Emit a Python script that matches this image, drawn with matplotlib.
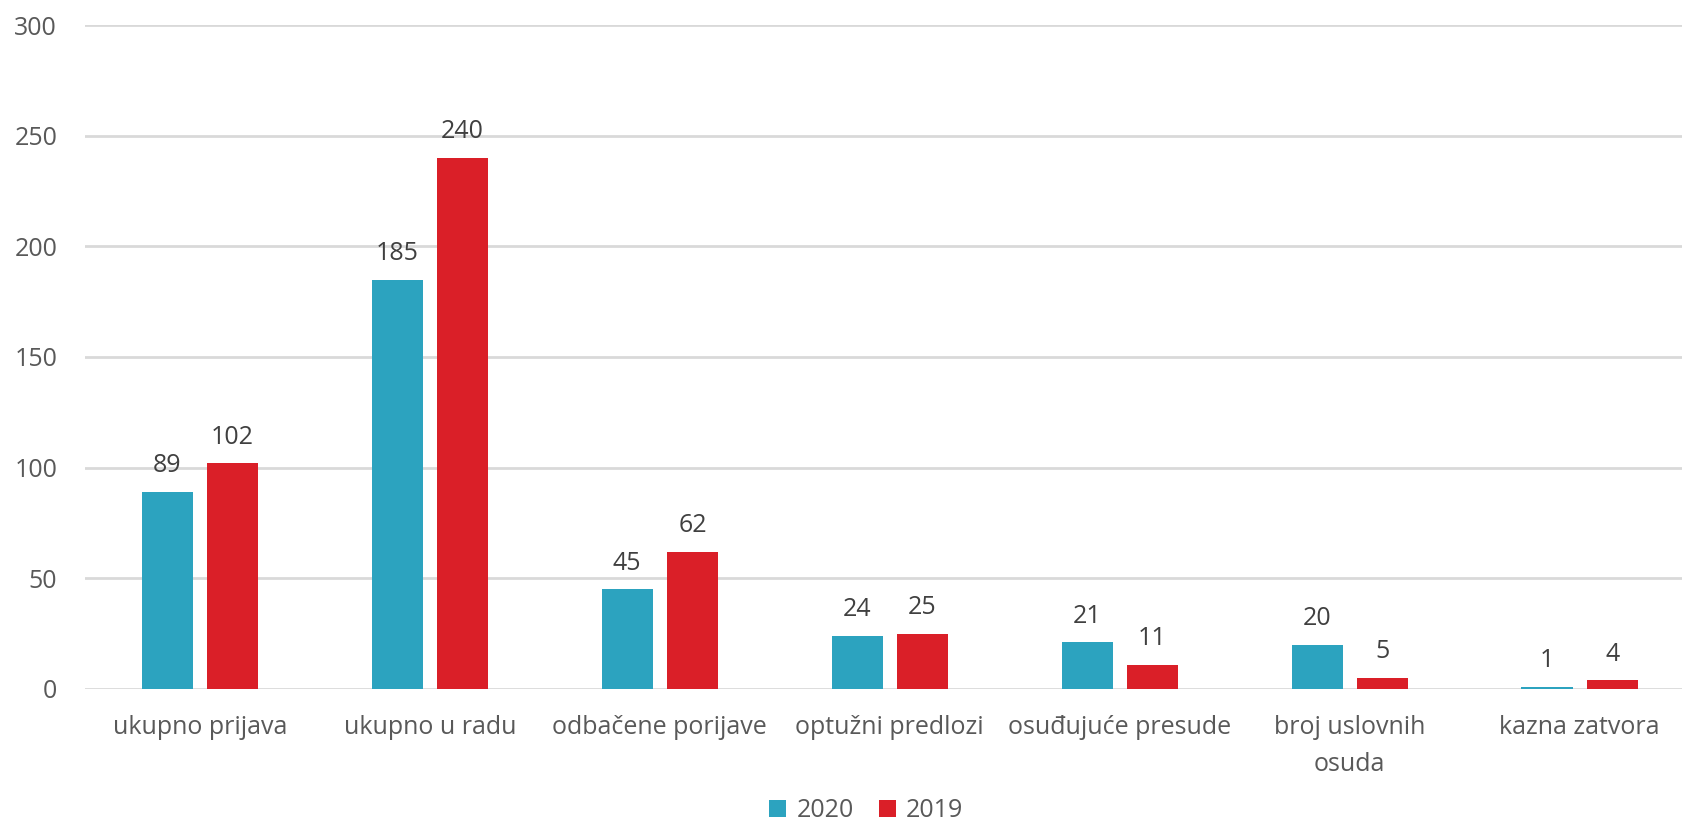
import numpy as np
import matplotlib.pyplot as plt

plt.rcParams['font.family'] = ['Open Sans', 'DejaVu Sans']

# data
categories = ['ukupno prijava', 'ukupno u radu', 'odbačene porijave', 'optužni predlozi',
              'osuđujuće presude', 'broj uslovnih\nosuda', 'kazna zatvora']
vals_2020 = [89, 185, 45, 24, 21, 20, 1]
vals_2019 = [102, 240, 62, 25, 11, 5, 4]
yticks = [0, 50, 100, 150, 200, 250, 300]

teal = '#2ca3bf'
red = '#da1f28'
txt = '#595959'

fig = plt.figure(figsize=(16.82, 8.34), dpi=100)
ax = fig.add_axes([0.0505, 0.174, 0.957, 0.796])

x = np.arange(len(categories))
w = 0.222
off = 0.142
b1 = ax.bar(x - off, vals_2020, w, color=teal, label='2020', zorder=3)
b2 = ax.bar(x + off, vals_2019, w, color=red, label='2019', zorder=3)

for bars in (b1, b2):
    for rect in bars:
        h = rect.get_height()
        ax.annotate(f'{h:g}', (rect.get_x() + rect.get_width() / 2, h),
                    xytext=(0, 14), textcoords='offset points',
                    ha='center', va='baseline', fontsize=18, color='#404040')

ax.set_xlim(-0.5, len(categories) - 0.5)
ax.set_ylim(0, 300)
ax.set_yticks(yticks)
ax.set_xticks(x)
ax.set_xticklabels(categories, fontsize=18, color=txt, linespacing=1.6)
ax.tick_params(axis='y', labelsize=18, labelcolor=txt, length=0, pad=20)
ax.tick_params(axis='x', length=0, pad=19)
ax.yaxis.grid(True, color='#d9d9d9', linewidth=2, zorder=0)
for s in ax.spines.values():
    s.set_visible(False)

fig.legend(handles=[b1, b2], loc='lower center', bbox_to_anchor=(0.515, -0.014),
           ncol=2, frameon=False, fontsize=18, labelcolor=txt,
           handlelength=0.7, handleheight=0.7, handletextpad=0.4, columnspacing=1.0)

fig.savefig('out.png', dpi=100, facecolor='white')
